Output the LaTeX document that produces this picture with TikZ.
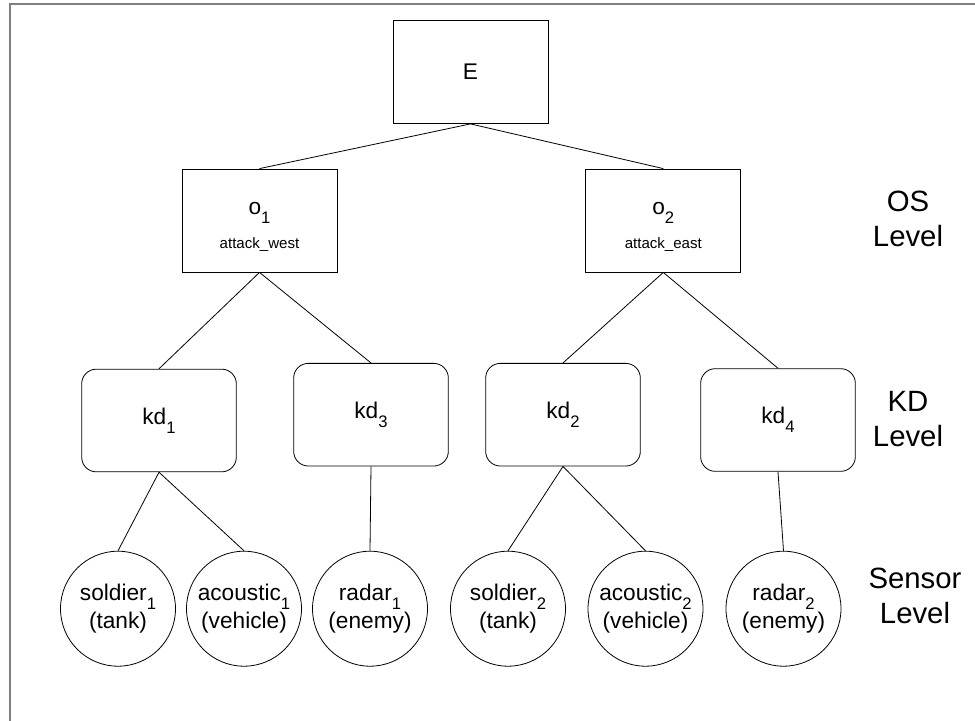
\documentclass[tikz,border=0pt]{standalone}
\usepackage{fontspec}
\setmainfont{Liberation Sans}
\newcommand{\lsub}[1]{\raisebox{-0.75ex}{\fontsize{12.5}{13}\selectfont #1}}
\begin{document}
\begin{tikzpicture}[x=0.75pt,y=-0.75pt,
  every node/.style={font=\fontsize{17}{20}\selectfont},
  sqbox/.style={draw,line width=0.6pt,minimum width=116.25pt,minimum height=77.25pt,inner sep=0pt,align=center},
  sqtext/.style={inner sep=0pt,align=center},
  kdbox/.style={draw,line width=0.6pt,rounded corners=11pt,minimum width=116pt,minimum height=77pt,inner sep=0pt,align=center},
  sens/.style={draw,circle,line width=0.6pt,minimum size=86.25pt,inner sep=0pt,align=center,font=\fontsize{17}{21.5}\selectfont},
  lvl/.style={align=center,font=\fontsize{22}{26}\selectfont},
  conn/.style={line width=0.6pt}]
\useasboundingbox (0,0) rectangle (975,721);
\draw[line width=1.5pt,color=black!50] (10,721) -- (10,4) -- (975,4);

\node[sqbox] (E) at (470.5,72) {E};
\node[sqbox] (o1) at (259.5,220.5) {};
\node[sqtext] (o1t) at (259.5,227) {o\lsub{1}\\[5pt]{\fontsize{11.3}{13}\selectfont attack\_west}};
\node[sqbox] (o2) at (663.3,220.5) {};
\node[sqtext] (o2t) at (663.3,227) {o\lsub{2}\\[5pt]{\fontsize{11.3}{13}\selectfont attack\_east}};

\node[kdbox] (kd1) at (159,420.5) {kd\lsub{1}};
\node[kdbox] (kd3) at (371,414.7) {kd\lsub{3}};
\node[kdbox] (kd2) at (563,414.7) {kd\lsub{2}};
\node[kdbox] (kd4) at (778,420) {kd\lsub{4}};

\node[sens] (s1) at (118,608.7) {soldier\lsub{1}\\(tank)};
\node[sens] (a1) at (244,608.7) {acoustic\lsub{1}\\(vehicle)};
\node[sens] (r1) at (370,608.7) {radar\lsub{1}\\(enemy)};
\node[sens] (s2) at (508,608.7) {soldier\lsub{2}\\(tank)};
\node[sens] (a2) at (645.5,608.7) {acoustic\lsub{2}\\(vehicle)};
\node[sens] (r2) at (783.5,608.7) {radar\lsub{2}\\(enemy)};

\node[lvl] (los) at (908,219) {OS\\Level};
\node[lvl] (lkd) at (908,419) {KD\\Level};
\node[lvl] (lse) at (915,596) {Sensor\\Level};

\draw[conn] (E.south) -- (o1.north);
\draw[conn] (E.south) -- (o2.north);
\draw[conn] (o1.south) -- (kd1.north);
\draw[conn] (o1.south) -- (kd3.north);
\draw[conn] (o2.south) -- (kd2.north);
\draw[conn] (o2.south) -- (kd4.north);
\draw[conn] (kd1.south) -- (s1.north);
\draw[conn] (kd1.south) -- (a1.north);
\draw[conn] (kd3.south) -- (r1.north);
\draw[conn] (kd2.south) -- (s2.north);
\draw[conn] (kd2.south) -- (a2.north);
\draw[conn] (kd4.south) -- (r2.north);
\end{tikzpicture}
\end{document}
